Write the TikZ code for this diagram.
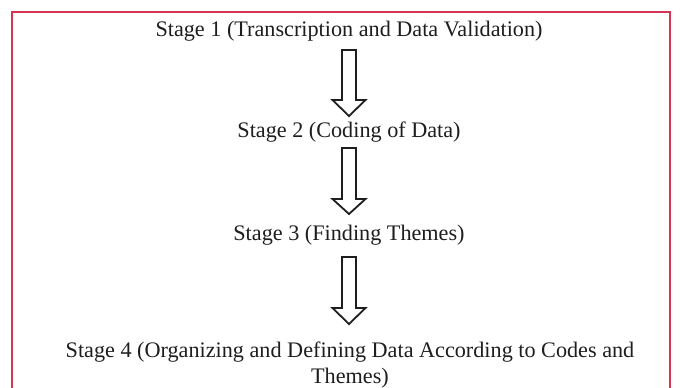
\documentclass[tikz,border=0pt]{standalone}
\usepackage{fontspec}
\setmainfont{Liberation Serif}
\definecolor{frame}{RGB}{214,52,84}
\definecolor{ink}{RGB}{30,30,30}
\tikzset{
  stage/.style={anchor=base, inner sep=0pt, text=ink, font=\fontsize{22.2}{26}\selectfont, align=center},
  blockarrow/.style={draw=ink, line width=1.8pt, fill=white, line join=miter},
}
% hollow down arrow: centre x, stem top, shoulder, tip
\newcommand{\downarrowblock}[4]{%
  \draw[blockarrow] (#1-7,#2) -- (#1+7,#2) -- (#1+7,#3) -- (#1+16.5,#3)
    -- (#1,#4) -- (#1-16.5,#3) -- (#1-7,#3) -- cycle;}
\begin{document}
\begin{tikzpicture}[x=1pt,y=-1pt]
  \useasboundingbox (0,0) rectangle (680,388);
  % open frame (no bottom edge)
  \draw[frame, line width=1.6pt] (12,388) -- (12,12) -- (670,12) -- (670,388);

  \node[stage] (s1) at (349,36) {Stage 1 (Transcription and Data Validation)};
  \node[stage] (s2) at (349,137) {Stage 2 (Coding of Data)};
  \node[stage] (s3) at (349,240) {Stage 3 (Finding Themes)};
  % two-line label: the base anchor sits on the last line
  \node[stage] (s4) at (350,383) {Stage 4 (Organizing and Defining Data According to Codes and\\Themes)};

  \downarrowblock{349}{50}{100}{116}
  \downarrowblock{349}{148}{199}{214}
  \downarrowblock{349}{257}{308}{324}
\end{tikzpicture}
\end{document}
